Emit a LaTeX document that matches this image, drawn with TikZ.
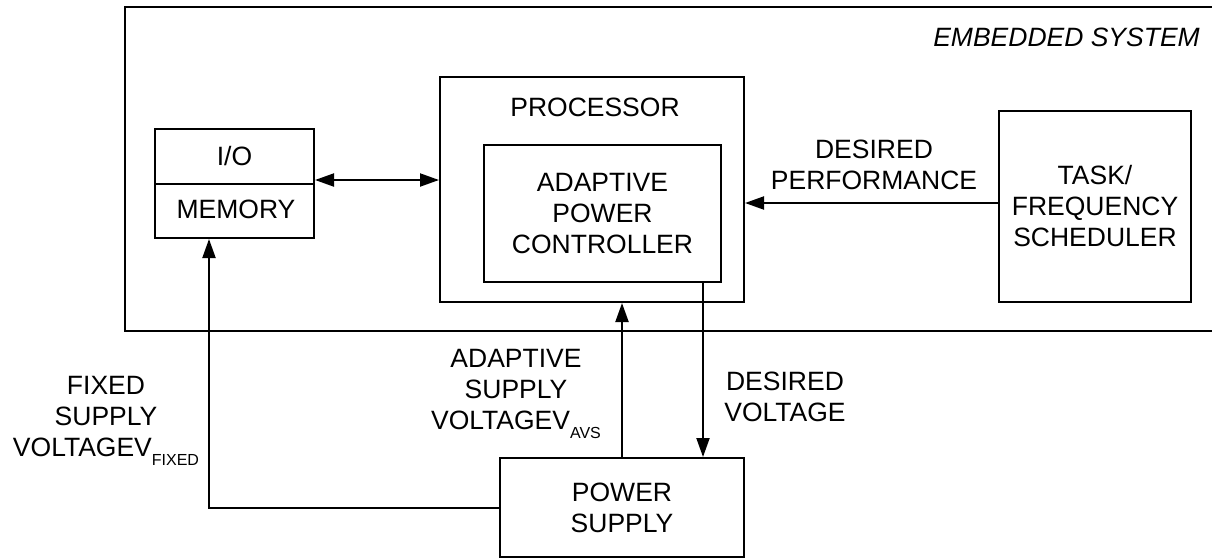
\documentclass[tikz,border=0pt]{standalone}
\usepackage{fontspec}
\setmainfont{Liberation Sans}
\usetikzlibrary{arrows.meta}
\begin{document}
\begin{tikzpicture}[x=1pt,y=-1pt,
  box/.style={draw,line width=2pt,rectangle,inner sep=0pt},
  lbl/.style={font=\fontsize{26.5}{31}\selectfont,align=center,inner sep=0pt},
  arr/.style={line width=2pt,-{Triangle[length=19pt,width=13pt]}},
  darr/.style={line width=2pt,{Triangle[length=19pt,width=13pt]}-{Triangle[length=19pt,width=13pt]}},
  ln/.style={line width=2pt}]
\useasboundingbox (0,0) rectangle (1212,558);
\clip (0,0) rectangle (1212,558);
% outer system box (right edge beyond the picture)
\node[box,minimum width=1100pt,minimum height=324pt] (sys) at (675,169) {};
\node[lbl,anchor=east,font=\fontsize{26.5}{31}\selectfont\itshape] (systitle) at (1200,37) {EMBEDDED SYSTEM};
% I/O memory
\node[box,minimum width=159pt,minimum height=109pt] (io) at (234.5,183.5) {};
\draw[ln] (io.west) -- (io.east);
\node[lbl] (iotxt) at (234.5,156.5) {I/O};
\node[lbl] (memtxt) at (236,209) {MEMORY};
% processor
\node[box,minimum width=304pt,minimum height=225pt] (proc) at (592,189.5) {};
\node[lbl] (proctxt) at (595,107) {PROCESSOR};
\node[box,lbl,minimum width=237pt,minimum height=137pt] (apc) at (602.5,213.5) {ADAPTIVE\\POWER\\CONTROLLER};
% task scheduler
\node[box,lbl,minimum width=192pt,minimum height=191pt] (task) at (1095,206.5) {TASK/\\FREQUENCY\\SCHEDULER};
% power supply
\node[box,lbl,minimum width=244pt,minimum height=99pt] (ps) at (622,507.5) {POWER\\SUPPLY};
% connectors
\draw[darr] ([yshift=3.5pt]io.east) -- ([yshift=3.5pt]io.east -| proc.west);
\draw[arr] ([yshift=3.5pt]task.west) -- ([yshift=3.5pt]task.west -| proc.east);
\node[lbl] (dperf) at (874,165) {DESIRED\\PERFORMANCE};
\draw[arr] (ps.north) -- (ps.north |- proc.south);
\coordinate (dvtop) at ([xshift=-19pt]apc.south east);
\draw[arr] (dvtop) -- (dvtop |- ps.north);
\coordinate (fx) at ([xshift=-25.5pt]io.south);
\draw[arr] (ps.west) -| (fx);
% labels
\node[lbl,anchor=north] (avs) at (516,349.5) {ADAPTIVE\\SUPPLY\\VOLTAGEV\raisebox{-9pt}{\fontsize{16}{16}\selectfont AVS}};
\node[lbl] (dvolt) at (785,397) {DESIRED\\VOLTAGE};
\node[lbl,anchor=north] (fixed) at (106,376.5) {FIXED\\SUPPLY\\VOLTAGEV\raisebox{-9pt}{\fontsize{16}{16}\selectfont FIXED}};
\end{tikzpicture}
\end{document}
